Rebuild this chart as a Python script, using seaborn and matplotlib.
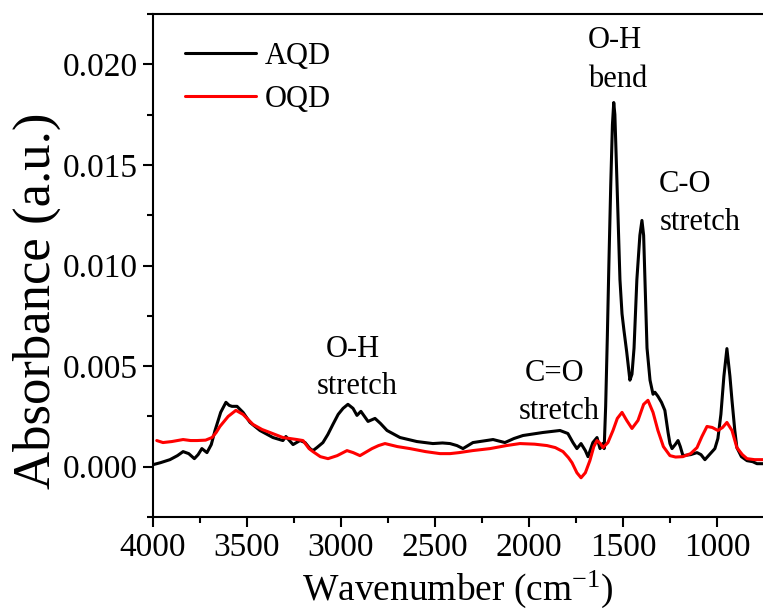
import numpy as np
import pandas as pd
import matplotlib
matplotlib.use("Agg")
import matplotlib.pyplot as plt
from matplotlib.ticker import MultipleLocator, FormatStrFormatter
import seaborn as sns

# FTIR absorbance spectra (wavenumber in cm^-1, absorbance in a.u.)
aqd_wavenumber = [4000, 3960, 3910, 3870, 3840, 3810, 3780, 3760, 3740, 3713, 3690, 3670,
                  3640, 3612, 3595, 3580, 3553, 3521, 3484, 3431, 3362, 3309, 3293, 3255,
                  3218, 3191, 3165, 3149, 3128, 3096, 3070, 3043, 3015, 2989, 2963, 2936,
                  2915, 2894, 2856, 2819, 2790, 2755, 2686, 2596, 2511, 2460, 2420, 2383,
                  2351, 2298, 2191, 2128, 2080, 2032, 1926, 1835, 1793, 1766, 1745, 1723,
                  1700, 1686, 1660, 1638, 1622, 1606, 1600, 1592, 1583, 1575, 1565, 1556,
                  1549, 1543, 1532, 1516, 1505, 1495, 1480, 1463, 1452, 1441, 1426, 1410,
                  1399, 1390, 1383, 1372, 1356, 1340, 1330, 1314, 1295, 1277, 1260, 1250,
                  1239, 1222, 1207, 1195, 1181, 1140, 1106, 1085, 1064, 1040, 1011, 995,
                  979, 963, 947, 931, 920, 905, 894, 870, 840, 810, 787, 755]
aqd_absorbance = [0.00010, 0.00020, 0.00035, 0.00055, 0.00075, 0.00065, 0.00040, 0.00060, 0.00090, 0.00070, 0.00110, 0.00180,
                  0.00270, 0.00320, 0.00305, 0.00300, 0.00300, 0.00270, 0.00220, 0.00180, 0.00145, 0.00130, 0.00150, 0.00110,
                  0.00130, 0.00120, 0.00090, 0.00080, 0.00095, 0.00120, 0.00160, 0.00210, 0.00260, 0.00290, 0.00310, 0.00290,
                  0.00255, 0.00275, 0.00225, 0.00240, 0.00215, 0.00180, 0.00145, 0.00125, 0.00115, 0.00118, 0.00115, 0.00105,
                  0.00090, 0.00120, 0.00135, 0.00120, 0.00140, 0.00155, 0.00170, 0.00180, 0.00165, 0.00120, 0.00090, 0.00115,
                  0.00080, 0.00050, 0.00120, 0.00145, 0.00090, 0.00115, 0.00090, 0.00300, 0.00650, 0.01000, 0.01400, 0.01700,
                  0.01810, 0.01750, 0.01420, 0.00930, 0.00760, 0.00680, 0.00570, 0.00430, 0.00460, 0.00590, 0.00930, 0.01150,
                  0.01224, 0.01150, 0.00930, 0.00590, 0.00430, 0.00360, 0.00370, 0.00350, 0.00320, 0.00280, 0.00170, 0.00115,
                  0.00090, 0.00110, 0.00130, 0.00100, 0.00055, 0.00060, 0.00070, 0.00060, 0.00035, 0.00060, 0.00090, 0.00140,
                  0.00260, 0.00450, 0.00587, 0.00450, 0.00330, 0.00180, 0.00095, 0.00050, 0.00030, 0.00025, 0.00015, 0.00015]

oqd_wavenumber = [3980, 3947, 3900, 3840, 3800, 3766, 3720, 3686, 3664, 3644, 3600, 3559,
                  3521, 3468, 3420, 3378, 3309, 3234, 3202, 3170, 3149, 3110, 3069, 3020,
                  2968, 2935, 2899, 2835, 2800, 2766, 2700, 2633, 2550, 2473, 2420, 2372,
                  2300, 2207, 2120, 2048, 1970, 1904, 1860, 1819, 1790, 1771, 1745, 1723,
                  1700, 1676, 1655, 1638, 1620, 1606, 1580, 1553, 1530, 1505, 1480, 1452,
                  1420, 1390, 1367, 1340, 1314, 1285, 1250, 1220, 1181, 1140, 1106, 1080,
                  1053, 1025, 995, 970, 947, 920, 894, 865, 840, 800, 755]
oqd_absorbance = [0.00130, 0.00120, 0.00125, 0.00135, 0.00130, 0.00130, 0.00132, 0.00145, 0.00170, 0.00200, 0.00250, 0.00280,
                  0.00260, 0.00210, 0.00185, 0.00170, 0.00145, 0.00135, 0.00130, 0.00090, 0.00075, 0.00050, 0.00040, 0.00055,
                  0.00080, 0.00070, 0.00055, 0.00090, 0.00105, 0.00115, 0.00100, 0.00090, 0.00075, 0.00065, 0.00065, 0.00070,
                  0.00080, 0.00090, 0.00105, 0.00115, 0.00112, 0.00105, 0.00095, 0.00075, 0.00045, 0.00020, -0.00030, -0.00055,
                  -0.00030, 0.00030, 0.00100, 0.00130, 0.00115, 0.00095, 0.00120, 0.00180, 0.00240, 0.00270, 0.00230, 0.00190,
                  0.00230, 0.00310, 0.00330, 0.00270, 0.00180, 0.00100, 0.00055, 0.00048, 0.00050, 0.00065, 0.00095, 0.00150,
                  0.00200, 0.00195, 0.00180, 0.00195, 0.00220, 0.00180, 0.00095, 0.00060, 0.00040, 0.00035, 0.00035]

series_names = ["AQD", "OQD"]
series_colors = ["#000000", "#ff0000"]

# Peak assignment labels, one entry per text line: (text, wavenumber, absorbance at baseline)
annotation_lines = [("O-H", 2936, 0.00547), ("stretch", 2915, 0.00363),
                    ("C=O", 1862, 0.00428), ("stretch", 1840, 0.00239),
                    ("O-H", 1543, 0.02080), ("bend", 1527, 0.01886),
                    ("C-O", 1170, 0.01363), ("stretch", 1090, 0.01174)]

df = pd.concat([
    pd.DataFrame({"Wavenumber": aqd_wavenumber, "Absorbance": aqd_absorbance, "Sample": series_names[0]}),
    pd.DataFrame({"Wavenumber": oqd_wavenumber, "Absorbance": oqd_absorbance, "Sample": series_names[1]}),
], ignore_index=True)

sns.set_style("ticks")
plt.rcParams["font.family"] = ["Liberation Serif", "DejaVu Serif"]
plt.rcParams["mathtext.fontset"] = "custom"
plt.rcParams["mathtext.rm"] = "Liberation Serif"
plt.rcParams["mathtext.it"] = "Liberation Serif:italic"
for key in ["text.color", "axes.labelcolor", "xtick.color", "ytick.color",
            "xtick.labelcolor", "ytick.labelcolor", "axes.edgecolor"]:
    plt.rcParams[key] = "black"

fig = plt.figure(figsize=(7.63, 6.11), dpi=100)
ax = fig.add_axes([153 / 763, 94 / 611, 610 / 763, 503 / 611])

sns.lineplot(data=df, x="Wavenumber", y="Absorbance", hue="Sample",
             palette=dict(zip(series_names, series_colors)), sort=False,
             estimator=None, linewidth=2.2, ax=ax)

ax.set_xlim(4000, 755)
ax.set_ylim(-0.0025, 0.0225)
ax.xaxis.set_major_locator(MultipleLocator(500))
ax.xaxis.set_minor_locator(MultipleLocator(250))
ax.yaxis.set_major_locator(MultipleLocator(0.005))
ax.yaxis.set_minor_locator(MultipleLocator(0.0025))
ax.yaxis.set_major_formatter(FormatStrFormatter("%.3f"))

ax.tick_params(axis="both", which="major", direction="out", length=7.2, width=1.5,
               labelsize=24, pad=4)
ax.tick_params(axis="both", which="minor", direction="out", length=4.3, width=1.5)
ax.spines["right"].set_visible(False)
for side in ["left", "bottom", "top"]:
    ax.spines[side].set_linewidth(1.5)

ax.set_xlabel("Wavenumber (cm$^{\\mathrm{-1}}$)", fontsize=27, labelpad=4)
ax.set_ylabel("Absorbance (a.u.)", fontsize=38)
ax.yaxis.set_label_coords(-0.15, 0.43)

for text, x, y in annotation_lines:
    ax.text(x, y, text, fontsize=22, ha="center", va="baseline")

leg = ax.legend(loc="upper left", bbox_to_anchor=(0.053, 0.944), frameon=False,
                fontsize=22, handlelength=2.3, handletextpad=0.3,
                labelspacing=0.45, borderpad=0, borderaxespad=0)
for line in leg.get_lines():
    line.set_linewidth(2.2)

fig.savefig("out.png", dpi=100)
